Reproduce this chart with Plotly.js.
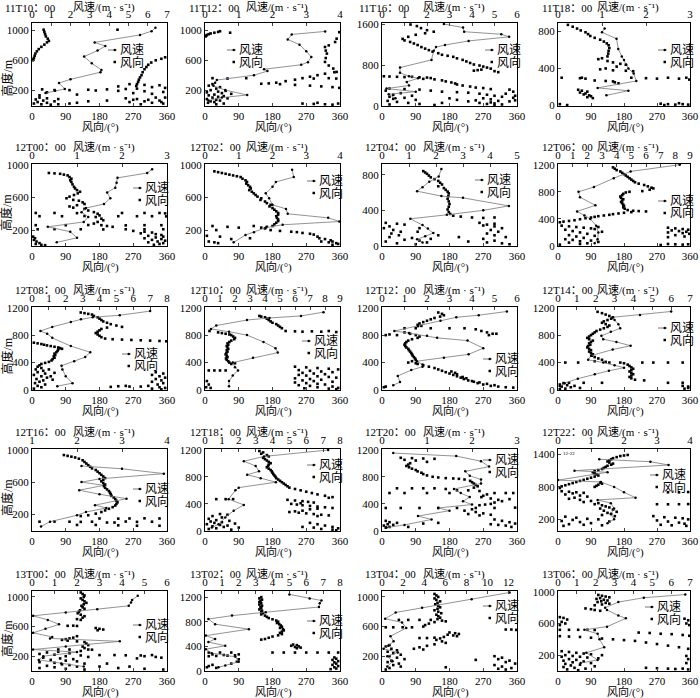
<!DOCTYPE html>
<html><head><meta charset="utf-8">
<script src="https://cdn.plot.ly/plotly-3.0.1.min.js"></script>
<style>html,body{margin:0;padding:0;background:#fff}#chart{width:700px;height:698px}</style>
</head><body><div id="chart"></div>
<script>
// ---------- data (height m, value) ----------
const panelNames = ['11T10：00','11T12：00','11T16：00','11T18：00','12T00：00','12T02：00','12T04：00','12T06：00','12T08：00','12T10：00','12T12：00','12T14：00','12T16：00','12T18：00','12T20：00','12T22：00','13T00：00','13T02：00','13T04：00','13T06：00'];
const dirTicks = [0,90,180,270,360];

// wind speed profiles [height, speed]
const S01 = [[1035,6.4],[990,6.2],[940,5.6],[840,3.25],[790,3.8],[730,3.4],[650,2.7],[560,3.1],[470,3.6],[440,3.55],[345,2.0],[295,1.4],[215,1.7],[190,1.2],[160,0.7]];
const S02 = [[987,3.56],[947,2.57],[880,2.45],[810,2.8],[720,3.0],[645,3.15],[575,3.05],[540,2.85],[480,1.75],[455,1.85],[400,1.45],[335,0.35],[300,0.3],[260,0.25],[200,0.6],[135,1.25],[100,0.5],[60,0.1]];
const S03 = [[1600,2.75],[1530,3.6],[1450,3.65],[1400,5.3],[1350,5.65],[1270,3.85],[1190,2.8],[1150,2.4],[1080,2.3],[900,2.2],[750,0.8],[650,0.8],[580,1.2],[540,1.6],[470,1.1],[400,1.2],[340,0.2],[280,1.5],[230,0.3],[150,0.6]];
const S04 = [[830,1.06],[790,1.0],[720,1.33],[610,1.37],[530,1.45],[490,1.5],[440,1.55],[400,1.6],[345,1.72],[265,1.78],[190,0.9],[160,1.6],[110,1.1]];
const S05 = [[945,2.67],[900,2.56],[840,1.9],[780,1.88],[720,1.85],[660,1.67],[590,1.74],[520,1.6],[470,1.2],[420,1.1],[360,1.25],[300,1.15],[240,0.35],[180,0.85],[105,1.0],[50,0.55]];
const S06 = [[940,2.58],[850,2.63],[790,2.1],[730,2.0],[650,1.8],[590,1.9],[510,2.0],[460,2.4],[400,2.45],[350,3.65],[305,3.98],[265,2.3],[230,1.8],[175,1.45],[140,1.2],[50,0.85]];
const S07 = [[865,2.2],[780,2.1],[720,1.75],[660,1.5],[615,1.3],[560,2.2],[540,3.0],[450,4.7],[400,3.75],[350,2.4],[305,1.05],[235,1.5],[195,1.7],[145,1.9],[110,1.6],[75,1.3],[40,1.5]];
const S08 = [[1200,8.3],[1100,4.95],[1000,3.8],[870,2.45],[800,1.4],[720,1.5],[600,2.55],[510,1.3],[450,1.8],[400,2.2],[300,2.6],[200,2.75],[100,2.7],[40,2.5]];
const S09 = [[1150,7.0],[1090,5.2],[1060,3.6],[1030,2.9],[990,2.3],[920,1.2],[860,0.5],[820,0.9],[760,1.2],[640,2.3],[550,3.45],[480,3.15],[420,2.5],[355,1.75],[300,1.8],[200,2.0],[100,2.4],[55,1.5]];
const S10 = [[1135,7.9],[1080,6.4],[1050,4.3],[1020,2.8],[940,0.75],[890,0.4],[850,1.6],[800,2.8],[700,3.9],[610,4.7],[545,4.85],[470,3.2],[400,1.85],[330,2.0],[285,2.2],[210,1.85],[130,1.6],[55,1.6]];
const S11 = [[1145,5.55],[1090,4.3],[1060,3.3],[1010,2.6],[930,1.6],[860,0.55],[830,1.2],[790,2.0],[760,2.45],[720,3.8],[610,4.5],[520,3.85],[470,2.75],[420,1.55],[370,1.8],[340,1.8],[290,1.3],[205,0.7],[115,0.8],[70,0.5]];
const S12 = [[1145,6.0],[1095,4.35],[1060,2.9],[1020,3.0],[960,3.2],[900,3.3],[850,2.8],[790,2.3],[740,2.4],[700,3.1],[645,3.85],[590,2.9],[500,1.75],[440,1.6],[400,2.4],[360,3.0],[325,3.5],[280,2.7],[230,1.95],[165,1.05],[100,0.35],[55,0.1]];
const S13 = [[800,2.1],[765,3.0],[705,3.93],[640,2.5],[600,2.1],[560,2.6],[500,2.05],[450,2.5],[395,3.1],[315,2.4],[280,2.65],[230,2.2],[190,2.0],[110,1.4],[50,1.2]];
const S14 = [[1195,7.3],[1100,3.5],[1030,2.3],[960,3.0],[880,3.2],[830,2.5],[780,3.3],[720,4.2],[640,2.0],[600,1.8],[470,1.4],[385,2.3],[300,1.7],[200,1.2],[100,0.8],[50,0.4]];
const S15 = [[1150,0.25],[1105,1.65],[1030,2.2],[950,2.38],[880,1.85],[815,1.95],[760,2.2],[700,2.2],[620,1.6],[560,1.75],[500,1.95],[440,1.8],[390,2.0],[340,1.25],[300,1.5],[220,0.8],[170,1.1],[90,0.5],[50,0.1]];
const S16 = [[1310,1.25],[1265,2.8],[1205,3.35],[1100,0.5],[1070,1.5],[925,0.0],[890,1.3],[800,1.7],[700,2.0],[600,2.35],[560,1.2],[500,1.6],[400,1.7],[300,1.6],[200,1.7],[130,1.5]];
const S17 = [[1015,4.7],[960,4.45],[925,4.4],[880,4.3],[835,2.9],[790,1.5],[745,0.05],[690,0.7],[630,1.2],[570,0.6],[515,0.05],[460,0.9],[440,0.8],[400,3.9],[330,1.5],[290,0.05],[255,2.0],[200,0.5],[150,0.3],[100,1.3],[60,2.3]];
const S18 = [[1245,5.0],[1180,6.2],[1145,6.9],[1100,6.8],[1040,6.75],[955,3.6],[900,1.6],[845,0.2],[760,0.6],[680,2.6],[575,0.05],[520,0.6],[470,0.2],[410,1.2],[355,0.05],[290,0.4],[230,1.8],[150,2.0],[90,1.2],[60,0.8]];
const S19 = [[1060,12.1],[970,8.5],[855,3.8],[790,1.3],[705,0.3],[655,1.9],[580,2.3],[470,0.8],[400,1.1],[340,0.6],[300,0.15],[250,1.5],[200,0.5],[130,1.0],[60,0.5]];
const S20 = [[965,6.75],[925,4.55],[870,3.2],[800,2.5],[770,2.6],[700,3.2],[665,3.6],[560,2.6],[520,1.4],[470,2.1],[400,2.2],[300,2.45],[230,1.5],[140,2.1],[100,1.2]];

// wind direction samples [height, direction]
const D01 = [[1010,31],[980,33],[950,35],[920,37],[890,42],[860,45],[840,40],[810,33],[780,25],[750,18],[720,13],[690,9],[660,7],[630,5],[610,3],[600,2],[640,355],[620,345],[600,330],[570,318],[540,310],[510,305],[480,300],[440,295],[400,292],[370,288],[340,285],[310,283],[280,280],[255,278],[1010,228],[280,260],[270,300],[265,340],[250,230],[240,320],[230,355],[220,280],[215,250],[210,200],[205,150],[200,100],[200,60],[195,170],[190,230],[185,300],[175,350],[170,40],[160,270],[150,320],[140,120],[130,20],[210,27],[100,20],[90,40],[80,70],[75,10],[60,30],[50,60],[40,15],[30,40],[20,5],[10,25],[10,70],[5,50],[90,250],[80,280],[70,310],[60,340],[50,300],[40,260],[30,320],[20,350],[10,290],[100,330],[60,200],[50,150],[30,120],[20,100],[100,355],[40,345],[70,270]];
const D02 = [[990,40],[980,35],[970,25],[960,15],[950,10],[940,5],[930,3],[920,2],[970,67],[977,358],[890,351],[845,347],[800,330],[778,320],[730,322],[690,325],[630,322],[578,320],[530,330],[489,342],[444,351],[440,345],[420,320],[400,300],[380,280],[360,260],[340,240],[320,215],[300,190],[290,170],[285,150],[280,200],[270,240],[260,280],[250,310],[240,340],[230,358],[280,20],[260,10],[240,40],[220,30],[200,15],[190,55],[180,35],[170,5],[160,45],[150,70],[140,25],[130,10],[120,50],[110,35],[100,20],[90,60],[80,5],[70,30],[60,40],[50,15],[40,25],[30,8],[20,50],[10,30],[360,20],[355,60],[360,110],[355,290],[360,330],[355,350],[20,260],[15,290],[10,320],[5,340],[20,355],[30,300]];
const D03 = [[1590,76],[1560,93],[1520,104],[1480,120],[1450,138],[1420,115],[1390,90],[1350,70],[1310,55],[1280,60],[1250,75],[1220,85],[1190,95],[1150,105],[1120,115],[1090,125],[1060,135],[1030,150],[1000,160],[980,175],[960,190],[930,200],[900,215],[870,225],[840,235],[810,245],[790,260],[770,270],[750,280],[730,290],[710,265],[700,255],[690,245],[680,300],[660,310],[580,5],[575,20],[570,40],[565,60],[570,80],[560,100],[555,120],[545,130],[530,110],[520,140],[500,160],[480,170],[460,185],[440,195],[420,200],[400,215],[380,235],[360,250],[350,270],[330,290],[320,340],[340,20],[330,60],[320,100],[300,130],[280,160],[270,200],[260,230],[240,260],[220,280],[200,300],[180,320],[160,350],[150,270],[130,290],[110,250],[100,310],[90,340],[70,290],[60,260],[50,300],[250,50],[220,30],[200,80],[180,20],[160,60],[140,30],[120,90],[100,15],[80,40],[60,70],[40,100],[30,20],[20,140],[150,180],[120,200],[90,230],[60,160],[300,10],[280,350],[240,330],[200,355],[110,355],[40,280],[30,320],[10,300]];
const D04 = [[870,27],[850,40],[830,52],[810,62],[790,75],[770,82],[750,88],[730,100],[710,115],[690,125],[670,133],[650,138],[620,140],[590,138],[560,137],[530,135],[510,120],[500,110],[480,135],[465,150],[450,170],[440,185],[420,160],[400,130],[390,115],[380,150],[375,185],[370,205],[300,10],[295,60],[300,65],[290,75],[300,200],[295,240],[290,270],[300,300],[290,330],[300,350],[280,358],[270,100],[265,130],[260,150],[250,155],[240,165],[170,55],[160,65],[150,80],[140,60],[130,75],[120,70],[110,85],[100,90],[90,80],[80,95],[20,280],[15,300],[10,320],[15,340],[10,355],[25,330],[5,290],[15,5],[5,25]];
const D05 = [[900,45],[895,60],[890,75],[880,85],[870,95],[850,100],[830,105],[810,102],[790,105],[760,108],[730,112],[710,115],[690,120],[670,128],[650,122],[630,112],[610,100],[590,92],[570,110],[560,125],[540,135],[520,140],[505,120],[490,100],[475,110],[460,140],[440,150],[420,165],[400,175],[380,180],[360,170],[340,185],[320,190],[300,175],[280,165],[260,185],[250,200],[240,215],[410,10],[410,60],[408,120],[410,240],[410,300],[410,340],[405,355],[370,20],[370,80],[372,140],[370,230],[370,280],[370,320],[368,358],[260,10],[260,90],[262,150],[258,250],[260,300],[260,345],[210,15],[212,60],[210,130],[208,190],[210,250],[210,300],[210,350],[190,270],[180,300],[170,320],[160,290],[150,330],[140,345],[130,310],[120,350],[110,330],[100,300],[90,345],[80,320],[70,355],[60,335],[50,310],[40,350],[30,340],[20,325],[120,3],[100,8],[80,5],[60,12],[40,20],[30,10],[20,25],[15,35]];
const D06 = [[920,25],[910,35],[900,45],[890,55],[880,65],[870,75],[860,85],[850,95],[830,100],[810,108],[790,112],[770,110],[750,115],[730,120],[710,122],[690,118],[670,125],[650,130],[630,135],[610,140],[590,150],[570,148],[550,160],[530,165],[510,175],[490,172],[470,180],[450,185],[430,190],[410,195],[390,195],[370,190],[350,192],[330,195],[310,195],[290,190],[270,185],[250,180],[240,165],[230,150],[220,160],[200,175],[190,200],[180,230],[175,245],[165,260],[155,280],[145,290],[120,300],[100,305],[90,320],[75,335],[60,340],[50,330],[40,350],[30,355],[20,340],[60,310],[250,20],[240,60],[200,30],[130,5],[120,40],[90,70],[60,10],[50,25],[40,35],[100,120],[230,90],[250,130]];
const D07 = [[840,110],[825,115],[810,120],[790,125],[770,130],[750,140],[730,150],[710,155],[690,160],[670,150],[650,165],[630,170],[610,175],[590,178],[560,177],[530,175],[500,178],[470,180],[440,178],[410,175],[380,178],[360,182],[340,190],[330,210],[320,240],[315,270],[320,300],[260,260],[250,300],[240,280],[230,270],[220,300],[200,320],[180,290],[160,310],[140,280],[120,300],[100,330],[80,270],[60,300],[40,280],[30,320],[20,340],[260,10],[250,40],[240,60],[220,20],[200,5],[180,30],[160,50],[140,25],[120,45],[100,20],[90,80],[70,60],[50,10],[30,40],[60,100],[40,120],[20,90],[80,130],[120,150],[200,100],[160,95],[100,205],[50,230]];
const D08 = [[1160,150],[1140,155],[1120,160],[1100,170],[1080,175],[1060,180],[1040,185],[1020,190],[1000,195],[980,200],[960,205],[940,210],[920,220],[900,235],[880,245],[860,255],[850,260],[830,250],[810,230],[800,195],[790,185],[770,178],[750,175],[730,170],[710,172],[690,178],[670,175],[650,172],[630,175],[610,178],[590,180],[570,178],[550,182],[530,190],[520,205],[515,220],[510,240],[500,200],[490,180],[480,165],[470,150],[460,140],[450,125],[440,110],[430,100],[420,90],[410,75],[395,60],[380,45],[370,30],[360,15],[350,5],[300,10],[290,30],[280,50],[270,70],[260,90],[250,100],[240,20],[220,40],[200,60],[180,80],[160,30],[150,100],[140,50],[120,70],[100,20],[90,40],[80,90],[70,60],[60,110],[50,30],[40,80],[30,60],[20,5],[280,110],[210,120],[270,300],[260,320],[250,340],[240,355],[230,310],[220,330],[210,350],[200,300],[190,340],[180,358],[160,320],[140,345],[130,300],[30,300],[25,320],[20,340],[25,355],[15,280]];
const D09 = [[1130,130],[1120,140],[1110,150],[1100,160],[1080,165],[1060,175],[1040,180],[1020,185],[1000,190],[980,200],[960,210],[940,225],[920,240],[910,200],[890,185],[870,180],[850,175],[830,170],[810,175],[790,180],[770,185],[750,195],[740,215],[735,240],[730,265],[725,290],[720,315],[715,340],[710,358],[690,5],[680,15],[670,25],[660,32],[650,40],[640,50],[630,60],[620,70],[610,75],[600,80],[590,70],[570,68],[550,65],[530,60],[510,62],[490,58],[470,60],[450,55],[430,52],[410,45],[395,35],[380,25],[360,20],[340,15],[320,25],[300,10],[280,30],[260,15],[240,35],[220,5],[200,25],[180,40],[160,12],[140,30],[120,20],[100,8],[80,35],[60,15],[40,25],[20,5],[300,45],[250,60],[200,50],[150,55],[260,330],[240,350],[220,320],[200,340],[180,355],[160,330],[140,345],[120,320],[100,350],[80,335],[60,310],[50,290],[40,340],[30,355],[20,320],[10,345],[55,230],[50,260],[60,250],[45,210]];
const D10 = [[1080,145],[1070,150],[1060,160],[1040,165],[1020,170],[1000,175],[980,180],[960,190],[940,195],[920,200],[900,205],[860,215],[855,240],[850,260],[855,285],[850,310],[860,330],[845,350],[860,12],[840,35],[830,45],[820,55],[810,65],[800,70],[780,75],[760,80],[740,78],[720,70],[700,65],[680,60],[660,62],[640,58],[620,60],[600,62],[580,58],[560,60],[540,57],[520,55],[500,58],[480,60],[460,56],[440,58],[420,62],[400,65],[390,80],[380,70],[285,10],[285,25],[285,40],[285,55],[130,5],[80,10],[40,3],[30,15],[340,240],[330,270],[320,300],[310,330],[300,355],[290,250],[280,280],[270,310],[260,340],[250,260],[240,290],[230,320],[220,250],[210,270],[200,300],[190,330],[180,350],[170,240],[160,280],[150,310],[140,260],[130,290],[120,340],[110,240],[100,270],[90,300],[80,320],[70,250],[60,280],[50,340],[40,300],[30,355],[20,330],[10,350],[25,265]];
const D11 = [[1130,150],[1110,160],[1090,165],[1070,155],[1050,140],[1030,130],[1010,120],[990,110],[970,100],[950,95],[935,105],[900,60],[900,90],[900,130],[900,180],[900,220],[885,250],[860,265],[840,280],[820,295],[800,285],[820,305],[810,20],[840,60],[820,75],[800,90],[780,100],[760,95],[740,80],[720,70],[700,65],[680,62],[660,60],[640,62],[620,65],[600,70],[580,72],[560,75],[540,78],[520,80],[500,82],[480,85],[460,88],[440,90],[420,80],[400,70],[390,90],[380,95],[360,110],[340,125],[320,140],[300,150],[280,160],[260,170],[240,180],[220,190],[200,200],[180,210],[160,218],[140,230],[120,245],[100,255],[80,270],[60,290],[50,310],[40,330],[35,350],[270,185],[250,195],[230,200],[190,215],[170,225],[130,240],[110,260],[90,280],[70,300],[50,10],[40,5],[800,10],[800,40]];
const D12 = [[1140,108],[1120,120],[1100,130],[1080,140],[1060,150],[1040,145],[1020,135],[1000,125],[980,120],[960,130],[940,140],[920,135],[900,125],[880,115],[860,105],[840,100],[820,95],[800,90],[780,85],[760,80],[740,85],[720,95],[700,90],[680,85],[660,88],[640,82],[620,80],[600,85],[580,90],[560,85],[540,90],[520,95],[500,92],[480,100],[460,110],[440,120],[420,100],[410,130],[400,20],[400,55],[400,140],[400,170],[400,230],[400,260],[400,300],[400,340],[390,180],[370,190],[350,195],[330,200],[310,205],[290,200],[270,195],[250,200],[230,205],[210,200],[190,195],[170,200],[150,210],[140,235],[105,30],[105,70],[105,120],[105,300],[105,340],[100,15],[80,5],[70,25],[60,45],[50,10],[40,35],[30,60],[20,20],[10,5],[60,340],[30,355],[20,345],[50,355]];
const D13 = [[935,85],[925,95],[915,105],[905,115],[890,125],[870,135],[850,140],[830,145],[810,150],[790,155],[770,160],[750,170],[730,175],[710,180],[690,185],[670,190],[650,195],[630,190],[610,185],[590,190],[570,195],[550,192],[530,195],[510,200],[490,205],[470,208],[450,210],[430,212],[410,218],[390,222],[370,225],[350,228],[330,225],[310,222],[290,215],[270,205],[250,195],[230,185],[210,170],[190,150],[180,130],[150,180],[148,230],[150,260],[152,300],[150,340],[110,20],[112,60],[110,100],[108,130],[110,160],[112,250],[108,280],[110,320],[70,170],[65,230],[60,280],[60,340],[70,120],[100,200],[100,220]];
const D14 = [[1180,145],[1160,155],[1140,150],[1120,165],[1100,170],[1080,155],[1060,160],[1040,165],[1020,170],[1000,175],[980,170],[960,168],[940,165],[920,170],[900,175],[880,178],[860,180],[840,182],[820,185],[800,188],[780,190],[760,195],[740,200],[720,205],[700,210],[680,215],[660,220],[640,225],[620,240],[600,255],[580,270],[560,285],[540,300],[520,320],[500,340],[490,330],[470,30],[470,55],[470,75],[460,220],[450,240],[440,260],[430,275],[420,290],[410,255],[400,230],[390,245],[380,260],[370,280],[360,300],[350,320],[340,340],[330,300],[320,280],[300,260],[290,240],[280,225],[270,250],[260,270],[250,290],[240,310],[230,330],[220,300],[250,40],[240,60],[220,20],[200,45],[180,10],[160,30],[150,65],[140,15],[130,45],[120,25],[110,80],[100,5],[90,40],[80,60],[70,20],[60,50],[50,90],[40,30],[30,10],[20,70],[120,280],[100,300],[80,320],[60,340],[50,290],[40,355],[30,310],[20,340],[10,350],[60,260]];
const D15 = [[1080,50],[1075,80],[1070,110],[1065,140],[1050,60],[1040,90],[1020,120],[1000,75],[980,70],[960,65],[940,72],[920,80],[900,90],[880,95],[860,105],[840,110],[820,120],[800,135],[790,150],[780,170],[775,190],[770,205],[760,220],[740,235],[720,240],[700,245],[680,250],[660,255],[640,245],[630,40],[630,80],[630,110],[630,140],[620,170],[600,200],[600,230],[590,260],[560,20],[560,60],[560,120],[560,180],[560,300],[560,330],[560,350],[540,280],[520,270],[500,265],[480,290],[460,310],[440,320],[420,300],[400,290],[390,275],[380,260],[470,340],[340,10],[340,50],[340,100],[340,150],[340,200],[340,250],[340,300],[345,355],[320,240],[300,220],[280,250],[260,270],[250,230],[240,290],[230,260],[150,10],[130,20],[120,40],[100,15],[90,30],[80,5],[60,20],[50,10],[170,300],[150,320],[130,340],[110,355],[100,290],[90,310],[80,330],[60,345],[110,110],[120,150],[60,70]];
const D16 = [[1390,190],[1380,180],[1370,170],[1350,160],[1330,150],[1310,145],[1290,140],[1270,135],[1250,140],[1230,150],[1210,145],[1190,135],[1170,130],[1150,125],[1130,120],[1110,110],[1090,100],[1070,95],[1050,100],[1030,105],[1010,110],[990,100],[970,90],[950,80],[930,70],[910,60],[890,50],[870,40],[850,30],[830,20],[810,10],[780,5],[880,115],[860,120],[840,110],[820,105],[800,100],[720,10],[710,30],[700,50],[690,70],[680,40],[660,20],[640,60],[620,80],[600,45],[580,30],[560,60],[540,90],[520,70],[500,110],[480,100],[460,120],[440,130],[420,140],[400,115],[380,150],[360,125],[340,160],[320,135],[300,145],[280,120],[260,155],[700,300],[700,330],[705,355],[480,270],[478,300],[480,330],[482,355],[260,260],[240,290],[230,320],[220,340],[200,355],[180,270],[160,300],[140,330],[120,345],[100,280],[90,310],[80,350],[250,20],[230,50],[210,80],[190,40],[170,10],[150,60],[130,90],[110,30],[100,70],[90,120],[80,15],[200,110],[160,140]];
const D17 = [[1060,130],[1040,135],[1020,140],[1000,138],[980,130],[960,135],[940,140],[920,145],[900,138],[880,132],[860,135],[840,140],[820,128],[800,125],[780,122],[760,130],[740,140],[720,135],[700,120],[690,130],[610,95],[612,110],[608,120],[580,170],[570,180],[560,190],[550,175],[470,120],[450,110],[440,100],[430,90],[420,80],[410,95],[400,120],[390,140],[370,145],[350,150],[330,135],[310,140],[290,150],[270,130],[290,70],[290,100],[288,160],[260,70],[250,40],[240,100],[230,20],[220,60],[210,130],[200,90],[190,150],[180,30],[170,75],[160,110],[150,50],[140,90],[130,120],[120,20],[110,60],[100,140],[90,80],[80,100],[70,40],[60,120],[50,60],[40,20],[30,90],[20,140],[215,180],[215,220],[212,250],[210,290],[215,320],[200,300],[190,330],[180,345],[170,280],[40,230],[30,300],[20,350],[60,260],[100,200],[60,180]];
const D18 = [[1200,150],[1180,145],[1160,152],[1140,148],[1120,145],[1100,150],[1080,145],[1060,152],[1040,148],[1020,150],[1000,145],[980,152],[960,150],[940,155],[920,150],[900,160],[880,165],[860,170],[840,180],[820,190],[800,195],[780,192],[760,198],[740,202],[720,205],[700,200],[680,208],[660,210],[640,205],[620,200],[600,205],[580,195],[560,180],[540,170],[520,160],[510,150],[430,235],[420,245],[410,230],[400,250],[390,240],[380,255],[370,245],[300,10],[300,40],[300,70],[300,180],[300,210],[300,240],[300,270],[300,300],[300,330],[300,355],[270,20],[260,50],[255,80],[250,60],[245,30],[240,10],[270,90],[190,90],[150,85],[120,70],[100,20],[80,10],[60,5],[50,30],[220,345],[200,350],[180,340],[160,355],[140,345],[120,350],[100,340],[80,355],[60,345],[40,350],[30,335]];
const D19 = [[1040,140],[1020,145],[1000,150],[980,140],[960,145],[940,155],[920,148],[900,142],[880,150],[860,155],[840,148],[820,140],[800,150],[780,158],[760,145],[740,150],[720,155],[700,148],[690,130],[690,100],[690,70],[690,45],[680,160],[670,170],[660,140],[640,125],[620,115],[600,110],[590,80],[590,55],[590,30],[590,10],[560,330],[560,345],[555,358],[520,180],[510,195],[500,205],[490,175],[480,190],[470,200],[460,165],[450,140],[445,120],[445,100],[440,155],[420,145],[400,160],[380,170],[360,140],[340,120],[320,100],[300,85],[290,110],[350,20],[330,10],[300,25],[280,40],[260,15],[240,30],[220,50],[200,20],[180,40],[160,60],[140,25],[120,15],[100,45],[80,30],[60,50],[40,20],[20,10],[200,300],[180,320],[160,310],[140,340],[120,330],[100,355],[80,300],[60,320],[40,345],[30,310],[20,330],[150,250],[50,170]];
const D20 = [[960,110],[950,120],[940,130],[930,140],[920,115],[910,105],[900,125],[890,135],[880,118],[870,108],[860,130],[850,140],[840,120],[830,100],[790,75],[780,90],[770,100],[760,115],[680,5],[670,15],[650,25],[620,10],[600,20],[580,5],[520,5],[520,30],[520,55],[520,80],[518,100],[440,5],[435,30],[430,60],[420,90],[410,120],[400,150],[390,180],[380,210],[360,240],[340,270],[320,300],[300,330],[280,355],[485,220],[480,250],[470,280],[465,310],[455,340],[445,358],[660,345],[640,355],[600,350],[580,358],[250,10],[240,30],[230,50],[220,70],[210,90],[200,20],[190,40],[180,60],[170,80],[160,110],[150,30],[140,50],[130,15],[120,70],[110,40],[100,90],[90,20],[80,60],[70,35],[60,100],[50,15],[40,45],[30,75],[20,25],[10,55],[200,120],[180,10],[40,240],[35,270],[30,300],[25,320],[30,340],[20,355],[100,350],[150,355],[190,350]];

const speedSets = [S01,S02,S03,S04,S05,S06,S07,S08,S09,S10,S11,S12,S13,S14,S15,S16,S17,S18,S19,S20];
const dirSets = [D01,D02,D03,D04,D05,D06,D07,D08,D09,D10,D11,D12,D13,D14,D15,D16,D17,D18,D19,D20];

// axis scales per panel
const heightRange = [[-13,1100],[-13,1100],[0,1620],[-5,890],[5,1010],[5,1010],[0,920],[0,1210],[0,1210],[0,1210],[0,1210],[0,1210],[-5,1010],[0,1210],[0,1210],[-15,1500],[0,1080],[0,1300],[0,1080],[0,1010]];
const heightTicks = [[200,600,1000],[200,600,1000],[0,800,1600],[0,400,800],[200,600,1000],[200,600,1000],[0,400,800],[0,400,800,1200],[0,400,800,1200],[0,400,800,1200],[0,400,800,1200],[0,400,800,1200],[200,600,1000],[0,400,800,1200],[0,400,800,1200],[200,800,1400],[200,600,1000],[0,400,800,1200],[200,600,1000],[200,600,1000]];
const speedRange = [[0,7],[0,4],[0,6],[0,3],[0,3],[0,4],[0,5],[0,9],[0,8],[0,9],[0,6],[0,7],[1,4],[0,8],[0,3],[0,4],[0,6],[0,8],[0,12.8],[0,7]];
const speedDtick = [1,1,1,1,1,1,1,1,1,1,1,1,1,1,1,1,1,1,2,1];

// ---------- layout geometry (pixels) ----------
const W = 700, H = 698;
const colX = [[32,167],[205,340],[382,517],[558,690]];
const rowY = [[23,106],[164,246],[307,390],[449,531],[591,671]];
const nameX = [[3,187,357,540],[13,188,363,540],[13,188,363,540],[13,188,363,540],[13,188,363,540]];
const legendPos = [[108,50],[227,50],[485,50],[658,50],[133,188],[307,181],[475,180],[658,201],[122,354],[302,341],[483,359],[658,328],[133,489],[307,465],[483,460],[650,475],[133,625],[307,621],[483,606],[645,607]];

const px = x => x / W, py = y => 1 - y / H;
const FONT = 'Liberation Serif, Noto Sans CJK SC, serif';
const tickFont = {family: FONT, size: 11, color: '#000'};

const traces = [];
const layout = {
  width: W, height: H, margin: {l:0, r:0, t:0, b:0},
  paper_bgcolor: '#fff', plot_bgcolor: '#fff', showlegend: false,
  font: {family: FONT, color: '#000'},
  annotations: [], shapes: []
};
const axName = (p, n) => n === 1 ? p : p + n;

for (let i = 0; i < 20; i++) {
  const r = Math.floor(i / 4), c = i % 4;
  const xd = [px(colX[c][0]), px(colX[c][1])];
  const yd = [py(rowY[r][1]), py(rowY[r][0])];
  const bx = 2*i + 1, tx = 2*i + 2, yi = i + 1;
  const bxId = axName('x', bx), txId = axName('x', tx), yId = axName('y', yi);

  layout[axName('xaxis', bx)] = {
    domain: xd, anchor: yId, range: [0, 360], tickvals: dirTicks, ticks: 'inside', ticklen: 3,
    showline: true, linecolor: '#000', linewidth: 1, showgrid: false, zeroline: false,
    tickfont: tickFont, fixedrange: true
  };
  layout[axName('xaxis', tx)] = {
    overlaying: bxId, side: 'top', anchor: yId, range: speedRange[i], dtick: speedDtick[i], tick0: 0,
    ticks: 'inside', ticklen: 3, showline: true, linecolor: '#000', linewidth: 1,
    showgrid: false, zeroline: false, tickfont: tickFont, fixedrange: true
  };
  layout[axName('yaxis', yi)] = {
    domain: yd, anchor: bxId, range: heightRange[i], tickvals: heightTicks[i], ticks: 'inside', ticklen: 3,
    showline: true, mirror: true, linecolor: '#000', linewidth: 1, showgrid: false, zeroline: false,
    tickfont: tickFont, fixedrange: true
  };

  const D = dirSets[i], S = speedSets[i];
  traces.push({
    type: 'scatter', mode: 'markers', xaxis: bxId, yaxis: yId, name: '风向',
    x: D.map(p => p[1]), y: D.map(p => p[0]),
    marker: {color: '#000', size: 2.6, symbol: 'square'}, hoverinfo: 'skip'
  });
  traces.push({
    type: 'scatter', mode: 'lines+markers', xaxis: txId, yaxis: yId, name: '风速',
    x: S.map(p => p[1]), y: S.map(p => p[0]),
    line: {color: '#777', width: 0.8}, marker: {color: '#000', size: 2.5}, hoverinfo: 'skip'
  });

  const cx = (colX[c][0] + colX[c][1]) / 2;
  const titleY = r === 0 ? 8 : rowY[r][0] - 17;
  layout.annotations.push({xref:'paper', yref:'paper', x: px(nameX[r][c]), y: py(titleY), xanchor:'left', yanchor:'middle',
    text: panelNames[i], showarrow:false, font:{family: FONT, size: 11, color:'#000'}});
  layout.annotations.push({xref:'paper', yref:'paper', x: px(cx + 4), y: py(titleY), xanchor:'center', yanchor:'middle',
    text: '风速/(m · s⁻¹)', showarrow:false, font:{family: FONT, size: 11, color:'#000'}});
  layout.annotations.push({xref:'paper', yref:'paper', x: px(cx + 1), y: py(rowY[r][1] + 21), xanchor:'center', yanchor:'middle',
    text: '风向/(°)', showarrow:false, font:{family: FONT, size: 11, color:'#000'}});
  if (c === 0) {
    const yc = (rowY[r][0] + rowY[r][1]) / 2 + (r === 0 ? 14 : 8);
    layout.annotations.push({xref:'paper', yref:'paper', x: px(7), y: py(yc), xanchor:'center', yanchor:'middle', textangle: -90,
      text: '高度/m', showarrow:false, font:{family: FONT, size: 12, color:'#000'}});
  }
  const [lx, ly] = legendPos[i];
  layout.shapes.push({type:'line', xref:'paper', yref:'paper', x0: px(lx), x1: px(lx + 9), y0: py(ly), y1: py(ly), line:{color:'#777', width:1}});
  layout.shapes.push({type:'circle', xref:'paper', yref:'paper', x0: px(lx + 5.5), x1: px(lx + 8), y0: py(ly + 1.25), y1: py(ly - 1.25), fillcolor:'#000', line:{width:0}});
  layout.shapes.push({type:'rect', xref:'paper', yref:'paper', x0: px(lx + 5.5), x1: px(lx + 8), y0: py(ly + 13.25), y1: py(ly + 10.75), fillcolor:'#000', line:{width:0}});
  layout.annotations.push({xref:'paper', yref:'paper', x: px(lx + 10), y: py(ly), xanchor:'left', yanchor:'middle',
    text: '风速', showarrow:false, font:{family: FONT, size: 12, color:'#000'}});
  layout.annotations.push({xref:'paper', yref:'paper', x: px(lx + 10), y: py(ly + 12), xanchor:'left', yanchor:'middle',
    text: '风向', showarrow:false, font:{family: FONT, size: 12, color:'#000'}});
}
layout.annotations.push({xref:'paper', yref:'paper', x: px(561), y: py(453), xanchor:'left', yanchor:'middle',
  text: '12-22', showarrow:false, font:{family: FONT, size: 5, color:'#000'}});

Plotly.newPlot('chart', traces, layout, {displayModeBar: false, staticPlot: true});
</script>
</body></html>
